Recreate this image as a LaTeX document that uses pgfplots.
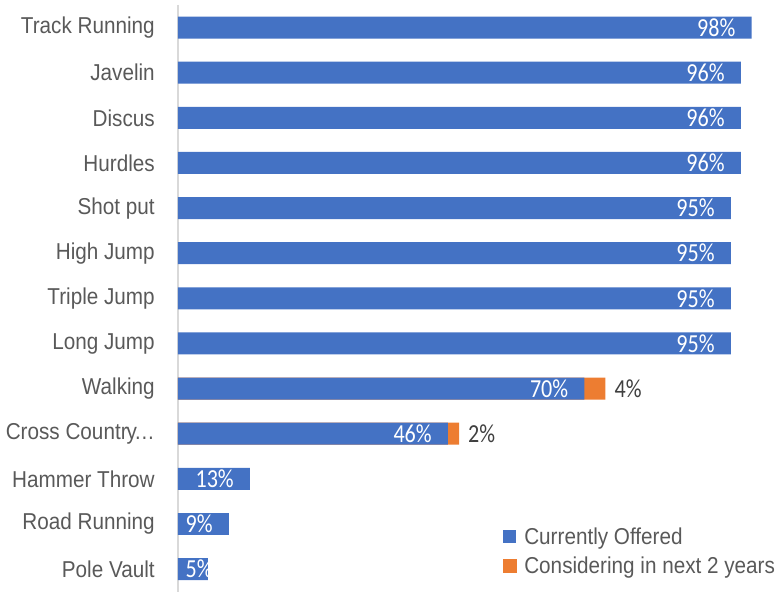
\documentclass[border=0pt]{standalone}
\usepackage{fontspec}
\usepackage{pgfplots}
\pgfplotsset{compat=1.18}
\setmainfont{Liberation Sans}
\newfontfamily\catfont[FakeStretch=0.9]{Liberation Sans}
\newfontfamily\valfont[FakeStretch=0.85]{Carlito}
\definecolor{cblue}{HTML}{4472C4}
\definecolor{corange}{HTML}{ED7D31}
\definecolor{labgray}{HTML}{595959}
\definecolor{valgray}{HTML}{404040}
\definecolor{axgray}{HTML}{D9D9D9}

\begin{document}
\begin{tikzpicture}
\begin{axis}[
    scale only axis,
    width=586bp, height=587bp,
    xbar, bar shift=0pt, bar width=22bp,
    xmin=0, xmax=100, ymin=-0.5, ymax=12.5,
    y dir=reverse,
    axis x line=none, axis y line*=left,
    y axis line style={draw=axgray, line width=1.5bp, -},
    ytick={0,...,12},
    yticklabels={Track Running, Javelin, Discus, Hurdles, Shot put, High Jump,
        Triple Jump, Long Jump, Walking, {Cross Countr\kern-1bp y\kern-3bp …}, Hammer Throw,
        Road Running, Pole Vault},
    major tick length=0pt,
    yticklabel style={font=\catfont\fontsize{23bp}{27bp}\selectfont,
        text=labgray, inner sep=0pt, xshift=-23bp},
    point meta=explicit symbolic,
    nodes near coords,
    legend style={at={(0.5546,0.113)}, anchor=north west, draw=none, fill=none,
        font=\catfont\fontsize{23bp}{27bp}\selectfont, text=labgray,
        inner sep=0pt, row sep=7bp, cells={anchor=west}},
]
% orange segment drawn from 0 to (offered + considering), blue drawn on top
\addplot[fill=corange, draw=none, forget plot,
    every node near coord/.style={anchor=west, xshift=9bp, text=valgray,
        inner sep=0pt, font=\valfont\fontsize{26bp}{30bp}\selectfont}]
coordinates {
    (73.0,8) [4\%] (48.0,9) [2\%]
};
\addplot[fill=cblue, draw=none,
    legend image code/.code={\fill[cblue] (0bp,-6.5bp) rectangle (13bp,6.5bp);
        \path (19bp,0bp);},
    every node near coord/.style={anchor=east, xshift=-16bp, text=white,
        inner sep=0pt, font=\valfont\fontsize{26bp}{30bp}\selectfont}]
coordinates {
    (97.95,0) [98\%] (96.1,1) [96\%] (96.1,2) [96\%] (96.1,3) [96\%]
    (94.4,4) [95\%] (94.4,5) [95\%] (94.4,6) [95\%] (94.4,7) [95\%]
    (69.4,8) [70\%] (46.1,9) [46\%] (12.3,10) [13\%] (8.7,11) [9\%]
    (5.1,12) [{\makebox[6bp][l]{5\%}}]
};
\addlegendentry{Currently Offered}
\addlegendimage{legend image code/.code={\fill[corange] (0bp,-6.5bp) rectangle (13bp,6.5bp);
    \path (19bp,0bp);}}
\addlegendentry{Considering in next 2 years}
\end{axis}
\path ([xshift=-178bp]current axis.south west) rectangle
    ([xshift=13bp,yshift=5bp]current axis.north east);
\end{tikzpicture}
\end{document}
